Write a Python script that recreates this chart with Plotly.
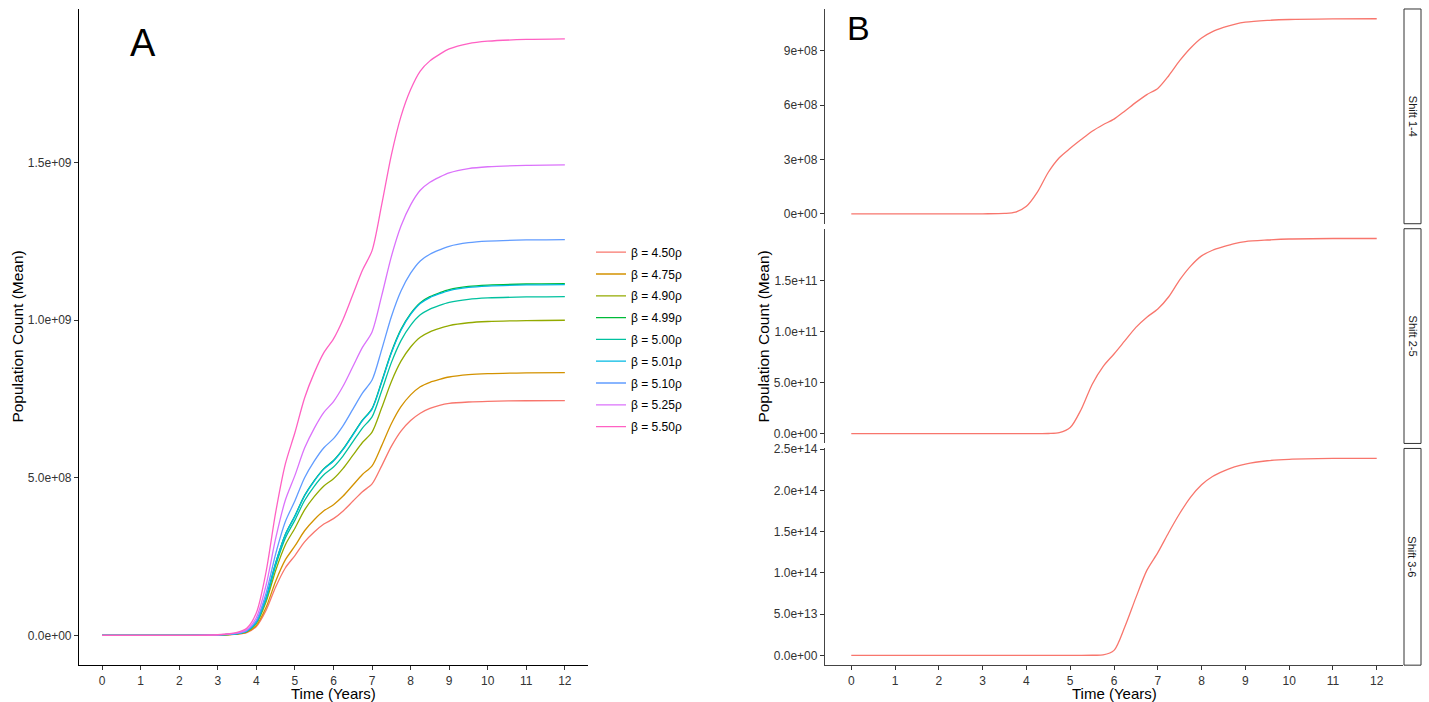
import plotly.graph_objects as go

W, H = 1429, 702
FONT = "Liberation Sans, Arial, Helvetica, sans-serif"

# ---------------- Panel A data (population in units of 1e8) ----------------
UNIT_A = 1e8
time_a = [0, 1, 2, 3, 3.5, 3.75, 4, 4.25, 4.5, 4.75, 5, 5.25, 5.5, 5.75, 6, 6.25, 6.5, 6.75,
          7, 7.25, 7.5, 7.75, 8, 8.25, 8.5, 8.75, 9, 9.5, 10, 11, 12]
beta_labels = ["β = 4.50ρ", "β = 4.75ρ", "β = 4.90ρ", "β = 4.99ρ", "β = 5.00ρ",
               "β = 5.01ρ", "β = 5.10ρ", "β = 5.25ρ", "β = 5.50ρ"]
beta_colors = ["#F8766D", "#D39200", "#93AA00", "#00BA38", "#00C19F",
               "#00B9E3", "#619CFF", "#DB72FB", "#FF61C3"]
pop_450 = [0, 0, 0, .007, .037, .089, .283, .790, 1.535, 2.138, 2.533, 2.965, 3.278, 3.531,
           3.703, 3.949, 4.254, 4.559, 4.805, 5.379, 5.997, 6.482, 6.817, 7.050, 7.200, 7.300,
           7.360, 7.405, 7.428, 7.445, 7.450]
pop_475 = [0, 0, 0, .008, .042, .100, .317, .884, 1.718, 2.394, 2.836, 3.319, 3.670, 3.953,
           4.145, 4.420, 4.762, 5.104, 5.379, 6.021, 6.714, 7.256, 7.631, 7.890, 8.031, 8.123,
           8.198, 8.273, 8.307, 8.332, 8.340]
pop_490 = [0, 0, 0, .010, .050, .120, .380, 1.060, 2.060, 2.870, 3.400, 3.980, 4.400, 4.740,
           4.970, 5.300, 5.710, 6.120, 6.450, 7.220, 8.050, 8.700, 9.150, 9.460, 9.630, 9.740,
           9.830, 9.920, 9.960, 9.990, 10.000]
pop_499 = [0, 0, 0, .011, .056, .134, .424, 1.183, 2.299, 3.203, 3.794, 4.442, 4.910, 5.290,
           5.547, 5.915, 6.372, 6.830, 7.198, 8.058, 8.984, 9.709, 10.211, 10.557, 10.747,
           10.870, 10.970, 11.071, 11.115, 11.149, 11.160]
pop_500 = [0, 0, 0, .011, .054, .129, .409, 1.140, 2.215, 3.085, 3.655, 4.279, 4.730, 5.096,
           5.343, 5.698, 6.138, 6.579, 6.934, 7.762, 8.654, 9.353, 9.836, 10.170, 10.352,
           10.471, 10.567, 10.664, 10.707, 10.739, 10.750]
pop_501 = [0, 0, 0, .011, .056, .134, .423, 1.180, 2.293, 3.194, 3.784, 4.430, 4.897, 5.276,
           5.532, 5.899, 6.355, 6.812, 7.179, 8.036, 8.960, 9.683, 10.184, 10.529, 10.718,
           10.841, 10.941, 11.041, 11.085, 11.119, 11.130]
pop_510 = [0, 0, 0, .013, .063, .151, .477, 1.331, 2.587, 3.605, 4.270, 4.999, 5.526, 5.953,
           6.242, 6.657, 7.172, 7.687, 8.101, 9.068, 10.111, 10.927, 11.492, 11.882, 12.095,
           12.233, 12.346, 12.460, 12.510, 12.547, 12.560]
pop_525 = [0, 0, 0, .015, .075, .179, .567, 1.583, 3.076, 4.285, 5.076, 5.942, 6.569, 7.077,
           7.420, 7.913, 8.525, 9.137, 9.630, 10.779, 12.019, 12.989, 13.661, 14.124, 14.378,
           14.542, 14.676, 14.811, 14.870, 14.915, 14.930]
pop_550 = [0, 0, 0, .019, .095, .227, .719, 2.007, 3.900, 5.433, 6.436, 7.534, 8.329, 8.973,
           9.408, 10.033, 10.809, 11.585, 12.210, 13.667, 15.239, 16.469, 17.321, 17.908,
           18.230, 18.438, 18.608, 18.779, 18.854, 18.911, 18.930]
series_a = [pop_450, pop_475, pop_490, pop_499, pop_500, pop_501, pop_510, pop_525, pop_550]
ytick_vals_a = [0, 5e8, 1e9, 1.5e9]
ytick_text_a = ["0.0e+00", "5.0e+08", "1.0e+09", "1.5e+09"]

# ---------------- Panel B data ----------------
time_b = [0, 1, 2, 3, 3.5, 3.75, 4, 4.25, 4.5, 4.75, 5, 5.25, 5.5, 5.75, 6, 6.25, 6.5,
          6.75, 7, 7.25, 7.5, 7.75, 8, 8.25, 8.5, 8.75, 9, 9.5, 10, 11, 12]
# Shift 1-4, units of 1e8
shift14 = [0, 0, 0, 0.01, 0.03, 0.10, 0.42, 1.20, 2.30, 3.10, 3.62, 4.10, 4.56, 4.92, 5.23,
           5.68, 6.15, 6.58, 6.92, 7.62, 8.45, 9.15, 9.70, 10.05, 10.28, 10.45, 10.57, 10.67,
           10.72, 10.75, 10.76]
# Shift 2-5, units of 1e10
shift25 = [0, 0, 0, 0, 0, 0, 0, 0, 0.02, 0.10, 0.60, 2.37, 4.82, 6.57, 7.80,
           9.10, 10.40, 11.40, 12.20, 13.40, 15.05, 16.40, 17.40, 17.95, 18.30, 18.60, 18.80,
           18.95, 19.05, 19.10, 19.10]
# Shift 3-6, units of 1e13
shift36 = [0, 0, 0, 0, 0, 0, 0, 0, 0, 0, 0, 0, 0.01, 0.05, 0.60,
           3.50, 7.00, 10.30, 12.45, 14.90, 17.20, 19.20, 20.70, 21.70, 22.35, 22.85, 23.20,
           23.60, 23.78, 23.88, 23.90]
facet_labels = ["Shift 1-4", "Shift 2-5", "Shift 3-6"]
facet_units = [1e8, 1e10, 1e13]
facet_series = [shift14, shift25, shift36]
facet_ranges = [[-5.38e7, 1.1298e9], [-9.55e9, 2.0055e11], [-1.195e13, 2.5095e14]]
facet_tickvals = [[0, 3e8, 6e8, 9e8], [0, 5e10, 1e11, 1.5e11],
                  [0, 5e13, 1e14, 1.5e14, 2e14, 2.5e14]]
facet_ticktext = [["0e+00", "3e+08", "6e+08", "9e+08"],
                  ["0.0e+00", "5.0e+10", "1.0e+11", "1.5e+11"],
                  ["0.0e+00", "5.0e+13", "1.0e+14", "1.5e+14", "2.0e+14", "2.5e+14"]]
xticks = list(range(0, 13))

# ---------------- geometry (pixels -> paper) ----------------
def px(x):
    return x / W

def py(y):
    y_adj = (y - 5) / 0.9927
    return 1 - y_adj / H

dom_ax = [px(79), px(588)]
dom_ay = [py(665), py(8)]
dom_bx = [px(825), px(1403)]
facet_doms = [[py(223), py(8)], [py(443), py(228)], [py(665), py(448)]]

fig = go.Figure()

for i, (lab, col, vals) in enumerate(zip(beta_labels, beta_colors, series_a)):
    fig.add_trace(go.Scatter(
        x=time_a, y=[v * UNIT_A for v in vals], mode="lines", name=lab,
        line=dict(color=col, width=1.3, shape="spline", smoothing=0.8),
        legendgroup=f"g{i}", xaxis="x", yaxis="y", showlegend=True))

for k in range(3):
    fig.add_trace(go.Scatter(
        x=time_b, y=[v * facet_units[k] for v in facet_series[k]], mode="lines",
        line=dict(color="#F8766D", width=1.3, shape="spline", smoothing=0.8),
        xaxis=f"x{k + 2}", yaxis=f"y{k + 2}", showlegend=False))

tickfont = dict(family=FONT, size=12, color="#333333")
common_x = dict(range=[-0.6, 12.6], tickvals=xticks, ticktext=[str(t) for t in xticks],
                showgrid=False, zeroline=False, ticks="outside", ticklen=4,
                tickcolor="#333333", tickfont=tickfont, showline=True, linewidth=1.2)

layout = dict(
    width=W, height=H, margin=dict(l=0, r=0, t=0, b=0),
    paper_bgcolor="white", plot_bgcolor="white",
    font=dict(family=FONT, color="#000000"),
    xaxis=dict(domain=dom_ax, anchor="y", linecolor="#000000", **common_x),
    yaxis=dict(domain=dom_ay, anchor="x", range=[-9.465e7, 1.98765e9],
               tickvals=ytick_vals_a, ticktext=ytick_text_a, showgrid=False,
               zeroline=False, ticks="outside", ticklen=4, tickcolor="#333333",
               tickfont=tickfont, showline=True, linecolor="#000000", linewidth=1.2),
    legend=dict(x=px(591), y=py(237), xanchor="left", yanchor="top",
                font=dict(family=FONT, size=12, color="#000000"),
                bgcolor="rgba(0,0,0,0)", tracegroupgap=2.8, itemwidth=30),
    showlegend=True,
)
for k in range(3):
    xa = dict(domain=dom_bx, anchor=f"y{k + 2}", linecolor="#444444", **common_x)
    if k < 2:
        xa["visible"] = False
        xa["matches"] = "x4"
    layout[f"xaxis{k + 2}"] = xa
    layout[f"yaxis{k + 2}"] = dict(
        domain=facet_doms[k], anchor=f"x{k + 2}", range=facet_ranges[k],
        tickvals=facet_tickvals[k], ticktext=facet_ticktext[k], showgrid=False,
        zeroline=False, ticks="outside", ticklen=4, tickcolor="#333333",
        tickfont=tickfont, showline=True, linecolor="#444444", linewidth=1.3)
fig.update_layout(**layout)

annotations = [
    dict(text="A", x=px(143), y=py(42), font=dict(size=38)),
    dict(text="B", x=px(858), y=py(27), font=dict(size=34)),
    dict(text="Population Count (Mean)", x=px(18), y=py(336), textangle=-90, font=dict(size=15.5)),
    dict(text="Population Count (Mean)", x=px(764), y=py(336), textangle=-90, font=dict(size=15.5)),
    dict(text="Time (Years)", x=px(333.5), y=py(693), font=dict(size=15)),
    dict(text="Time (Years)", x=px(1114), y=py(693), font=dict(size=15)),
]
shapes = []
strip_px = [[8, 223], [228, 443], [448, 665]]
for k in range(3):
    y0, y1 = strip_px[k]
    shapes.append(dict(type="rect", xref="paper", yref="paper", x0=px(1404), x1=px(1421),
                       y0=py(y1), y1=py(y0), line=dict(color="#333333", width=1),
                       fillcolor="white"))
    annotations.append(dict(text=facet_labels[k], x=px(1412.5), y=py((y0 + y1) / 2),
                            textangle=90, font=dict(size=11, color="#1a1a1a")))
for a in annotations:
    a.update(xref="paper", yref="paper", showarrow=False, xanchor="center", yanchor="middle")
    a["font"]["family"] = FONT
    a["font"].setdefault("color", "#000000")
fig.update_layout(annotations=annotations, shapes=shapes)

fig.write_html("out.html")
